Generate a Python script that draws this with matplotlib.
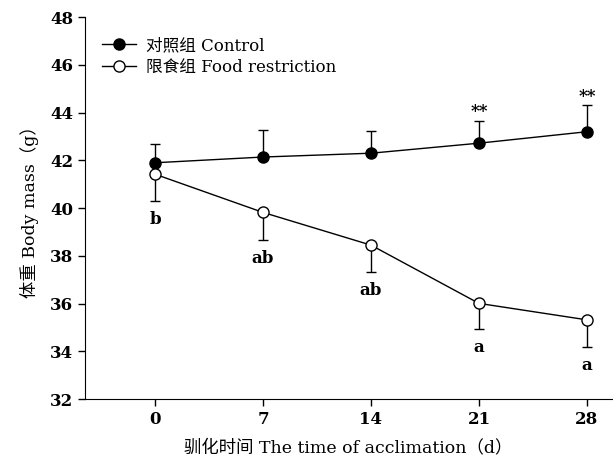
import matplotlib.pyplot as plt
from matplotlib.lines import Line2D

plt.rcParams['font.family'] = ['DejaVu Serif', 'Noto Sans CJK SC']

days = [0, 7, 14, 21, 28]
control = [41.9, 42.14, 42.3, 42.72, 43.2]
control_err = [0.79, 1.15, 0.93, 0.94, 1.11]
restrict = [41.42, 39.82, 38.45, 36.01, 35.32]
restrict_err = [1.14, 1.17, 1.13, 1.09, 1.13]
letters = ['b', 'ab', 'ab', 'a', 'a']
stars = ['', '', '', '**', '**']

fig = plt.figure(figsize=(6.13, 4.63), dpi=100)
ax = fig.add_axes([0.1387, 0.138, 0.859, 0.825])

# 對照組：只畫上方誤差線
ax.errorbar(days, control, yerr=[[0] * 5, control_err], color='black', lw=1,
            marker='o', ms=8, mfc='black', mec='black', capsize=3.5, elinewidth=1,
            capthick=1, zorder=3)
# 限食組：只畫下方誤差線
ax.errorbar(days, restrict, yerr=[restrict_err, [0] * 5], color='black', lw=1,
            marker='o', ms=8, mfc='white', mec='black', mew=1, capsize=3.5,
            elinewidth=1, capthick=1, zorder=3)

for d, v, e, t in zip(days, restrict, restrict_err, letters):
    ax.text(d, v - e - 0.42, t, ha='center', va='top', fontsize=12, fontweight='bold')
for d, v, e, t in zip(days, control, control_err, stars):
    if t:
        ax.text(d, v + e + 0.02, t, ha='center', va='bottom', fontsize=12, fontweight='bold')

ax.set_xlim(-4.54, 29.6)
ax.set_ylim(32, 48)
ax.set_xticks(days)
ax.set_yticks(range(32, 49, 2))
ax.tick_params(direction='out', length=5, width=1, labelsize=12)
for lab in ax.get_xticklabels() + ax.get_yticklabels():
    lab.set_fontweight('bold')
ax.spines['top'].set_visible(False)
ax.spines['right'].set_visible(False)

ax.set_xlabel('驯化时间 The time of acclimation（d）', fontsize=12.5, labelpad=8)
ax.set_ylabel('体重 Body mass（g）', fontsize=12.5, labelpad=8)

handles = [
    Line2D([], [], color='black', lw=1, marker='o', ms=8, mfc='black', mec='black'),
    Line2D([], [], color='black', lw=1, marker='o', ms=8, mfc='white', mec='black'),
]
ax.legend(handles, ['对照组 Control', '限食组 Food restriction'],
          loc='upper left', bbox_to_anchor=(0.011, 0.978), frameon=False,
          fontsize=12, handlelength=2.0, handletextpad=0.6,
          labelspacing=0.3, borderaxespad=0.3)

plt.savefig('out.png', dpi=100)
